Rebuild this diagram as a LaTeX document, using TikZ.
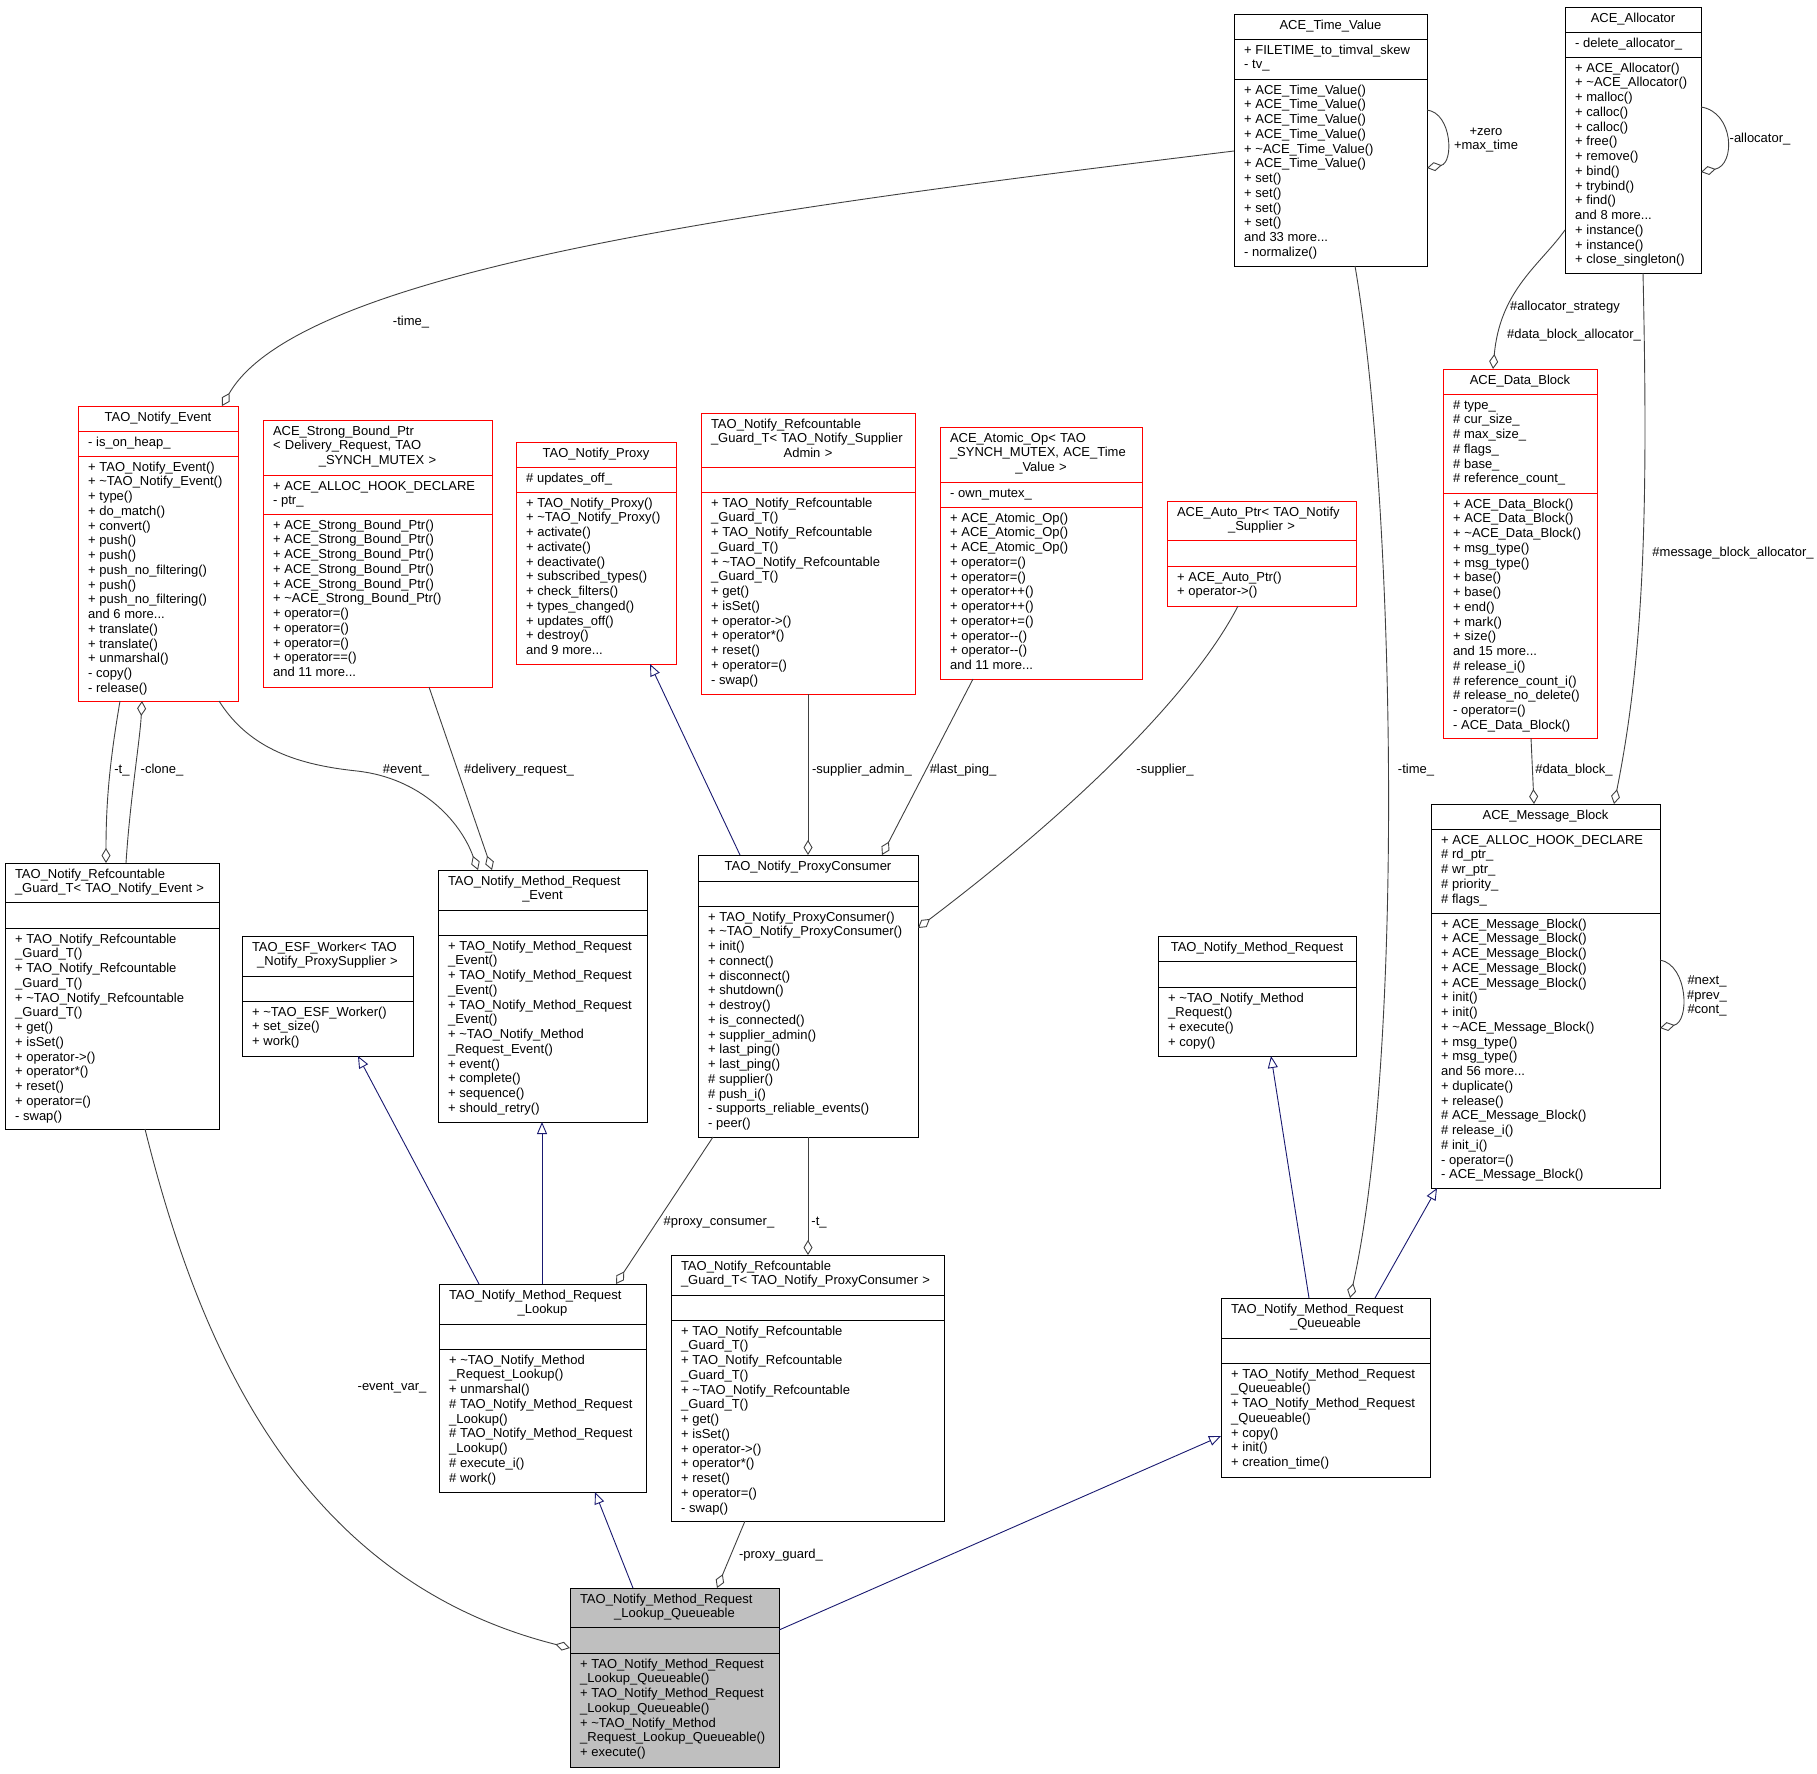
\documentclass[tikz,border=0pt]{standalone}
\usepackage{fontspec}
\setmainfont{Liberation Sans}
\usetikzlibrary{arrows.meta,calc}
\definecolor{boxred}{HTML}{FF0000}
\definecolor{edgegray}{HTML}{404040}
\definecolor{inhblue}{HTML}{191970}
\definecolor{selgray}{HTML}{BFBFBF}
\newcommand\lline[1]{\makebox[\hsize][l]{#1}}
\newcommand\tld{\textasciitilde}
\def\parsegeo#1/#2/#3/#4/#5/#6\relax{\def\gxa{#1}\def\gya{#2}\def\gxb{#3}\def\gyb{#4}\def\gsa{#5}\def\gsb{#6}}
\newcommand\umlclass[6]{%
  \parsegeo#3\relax
  \pgfmathsetmacro\gw{\gxb-\gxa}\pgfmathsetmacro\gh{\gyb-\gya}%
  \pgfmathsetmacro\gtw{\gw-20}\pgfmathsetmacro\gxc{(\gxa+\gxb)/2}%
  \pgfmathsetmacro\gxt{\gxa+10}%
  \node[classbox,#2,minimum width=\gw pt,minimum height=\gh pt,anchor=north west] (#1) at (\gxa,\gya) {};
  \draw[sepline,#2] (\gxa,\gsa) -- (\gxb,\gsa);
  \draw[sepline,#2] (\gxa,\gsb) -- (\gxb,\gsb);
  \node[txt,anchor=north,text width=\gtw pt,align=center] (#1-t) at (\gxc,\gya+3) {\rule{0pt}{12pt}#4};
  \node[txt,anchor=north west,align=left] (#1-a) at (\gxt,\gsa+3) {\rule{0pt}{12pt}#5};
  \node[txt,anchor=north west,align=left] (#1-m) at (\gxt,\gsb+3) {\rule{0pt}{12pt}#6};
}
\newcommand\refmethods{+ TAO\_Notify\_Refcountable\\\_Guard\_T()\\+ TAO\_Notify\_Refcountable\\\_Guard\_T()\\+ \tld TAO\_Notify\_Refcountable\\\_Guard\_T()\\+ get()\\+ isSet()\\+ operator->()\\+ operator*()\\+ reset()\\+ operator=()\\- swap()}
\tikzset{
  classbox/.style={inner sep=0pt,outer sep=0pt,line width=1pt},
  sepline/.style={line width=1pt},
  redbox/.style={draw=boxred},
  blackbox/.style={draw=black},
  graybox/.style={draw=black,fill=selgray},
  txt/.style={inner sep=0pt,font=\fontsize{13pt}{14.75pt}\selectfont},
  lbl/.style={inner sep=0pt,font=\fontsize{13pt}{14.75pt}\selectfont},
  agg/.style={draw=edgegray,line width=0.9pt,-{Diamond[open,length=15pt,width=9pt,line width=0.9pt]}},
  inh/.style={draw=inhblue,line width=0.9pt,-{Triangle[open,length=12pt,width=10pt,line width=0.9pt]}},
}
\begin{document}
\begin{tikzpicture}[x=1pt,y=-1pt]
\useasboundingbox (0,0) rectangle (1817,1773);

\umlclass{tv}{blackbox}{1234/14/1427/266/39/79}{ACE\_Time\_Value}{+ FILETIME\_to\_timval\_skew\\- tv\_}{+ ACE\_Time\_Value()\\+ ACE\_Time\_Value()\\+ ACE\_Time\_Value()\\+ ACE\_Time\_Value()\\+ \tld ACE\_Time\_Value()\\+ ACE\_Time\_Value()\\+ set()\\+ set()\\+ set()\\+ set()\\and 33 more...\\- normalize()}

\umlclass{al}{blackbox}{1565/7/1701/273/32/57}{ACE\_Allocator}{- delete\_allocator\_}{+ ACE\_Allocator()\\+ \tld ACE\_Allocator()\\+ malloc()\\+ calloc()\\+ calloc()\\+ free()\\+ remove()\\+ bind()\\+ trybind()\\+ find()\\and 8 more...\\+ instance()\\+ instance()\\+ close\_singleton()}

\umlclass{ev}{redbox}{78/406/238/701/431/456}{TAO\_Notify\_Event}{- is\_on\_heap\_}{+ TAO\_Notify\_Event()\\+ \tld TAO\_Notify\_Event()\\+ type()\\+ do\_match()\\+ convert()\\+ push()\\+ push()\\+ push\_no\_filtering()\\+ push()\\+ push\_no\_filtering()\\and 6 more...\\+ translate()\\+ translate()\\+ unmarshal()\\- copy()\\- release()}

\umlclass{sbp}{redbox}{263/420/492/687/475/514}{\lline{ACE\_Strong\_Bound\_Ptr}\\\lline{< Delivery\_Request, TAO}\\\_SYNCH\_MUTEX >}{+ ACE\_ALLOC\_HOOK\_DECLARE\\- ptr\_}{+ ACE\_Strong\_Bound\_Ptr()\\+ ACE\_Strong\_Bound\_Ptr()\\+ ACE\_Strong\_Bound\_Ptr()\\+ ACE\_Strong\_Bound\_Ptr()\\+ ACE\_Strong\_Bound\_Ptr()\\+ \tld ACE\_Strong\_Bound\_Ptr()\\+ operator=()\\+ operator=()\\+ operator=()\\+ operator==()\\and 11 more...}

\umlclass{px}{redbox}{516/442/676/664/467/492}{TAO\_Notify\_Proxy}{\# updates\_off\_}{+ TAO\_Notify\_Proxy()\\+ \tld TAO\_Notify\_Proxy()\\+ activate()\\+ activate()\\+ deactivate()\\+ subscribed\_types()\\+ check\_filters()\\+ types\_changed()\\+ updates\_off()\\+ destroy()\\and 9 more...}

\umlclass{rsa}{redbox}{701/413/915/694/467/492}{\lline{TAO\_Notify\_Refcountable}\\\lline{\_Guard\_T< TAO\_Notify\_Supplier}\\Admin >}{}{\refmethods}

\umlclass{ao}{redbox}{940/427/1142/679/482/507}{\lline{ACE\_Atomic\_Op< TAO}\\\lline{\_SYNCH\_MUTEX, ACE\_Time}\\\_Value >}{- own\_mutex\_}{+ ACE\_Atomic\_Op()\\+ ACE\_Atomic\_Op()\\+ ACE\_Atomic\_Op()\\+ operator=()\\+ operator=()\\+ operator++()\\+ operator++()\\+ operator+=()\\+ operator-{}-()\\+ operator-{}-()\\and 11 more...}

\umlclass{ap}{redbox}{1167/501/1356/606/540/566}{\lline{ACE\_Auto\_Ptr< TAO\_Notify}\\\_Supplier >}{}{+ ACE\_Auto\_Ptr()\\+ operator->()}

\umlclass{db}{redbox}{1443/369/1597/738/394/493}{ACE\_Data\_Block}{\# type\_\\\# cur\_size\_\\\# max\_size\_\\\# flags\_\\\# base\_\\\# reference\_count\_}{+ ACE\_Data\_Block()\\+ ACE\_Data\_Block()\\+ \tld ACE\_Data\_Block()\\+ msg\_type()\\+ msg\_type()\\+ base()\\+ base()\\+ end()\\+ mark()\\+ size()\\and 15 more...\\\# release\_i()\\\# reference\_count\_i()\\\# release\_no\_delete()\\- operator=()\\- ACE\_Data\_Block()}

\umlclass{mb}{blackbox}{1431/804/1660/1188/829/913}{ACE\_Message\_Block}{+ ACE\_ALLOC\_HOOK\_DECLARE\\\# rd\_ptr\_\\\# wr\_ptr\_\\\# priority\_\\\# flags\_}{+ ACE\_Message\_Block()\\+ ACE\_Message\_Block()\\+ ACE\_Message\_Block()\\+ ACE\_Message\_Block()\\+ ACE\_Message\_Block()\\+ init()\\+ init()\\+ \tld ACE\_Message\_Block()\\+ msg\_type()\\+ msg\_type()\\and 56 more...\\+ duplicate()\\+ release()\\\# ACE\_Message\_Block()\\\# release\_i()\\\# init\_i()\\- operator=()\\- ACE\_Message\_Block()}

\umlclass{re}{blackbox}{5/863/219/1129/902/928}{\lline{TAO\_Notify\_Refcountable}\\\lline{\_Guard\_T< TAO\_Notify\_Event >}}{}{\refmethods}

\umlclass{esf}{blackbox}{242/936/413/1056/976/1001}{\lline{TAO\_ESF\_Worker< TAO}\\\_Notify\_ProxySupplier >}{}{+ \tld TAO\_ESF\_Worker()\\+ set\_size()\\+ work()}

\umlclass{mre}{blackbox}{438/870/647/1122/910/935}{\lline{TAO\_Notify\_Method\_Request}\\\_Event}{}{+ TAO\_Notify\_Method\_Request\\\_Event()\\+ TAO\_Notify\_Method\_Request\\\_Event()\\+ TAO\_Notify\_Method\_Request\\\_Event()\\+ \tld TAO\_Notify\_Method\\\_Request\_Event()\\+ event()\\+ complete()\\+ sequence()\\+ should\_retry()}

\umlclass{pc}{blackbox}{698/855/918/1137/881/906}{TAO\_Notify\_ProxyConsumer}{}{+ TAO\_Notify\_ProxyConsumer()\\+ \tld TAO\_Notify\_ProxyConsumer()\\+ init()\\+ connect()\\+ disconnect()\\+ shutdown()\\+ destroy()\\+ is\_connected()\\+ supplier\_admin()\\+ last\_ping()\\+ last\_ping()\\\# supplier()\\\# push\_i()\\- supports\_reliable\_events()\\- peer()}

\umlclass{mr}{blackbox}{1158/936/1356/1056/961/987}{TAO\_Notify\_Method\_Request}{}{+ \tld TAO\_Notify\_Method\\\_Request()\\+ execute()\\+ copy()}

\umlclass{lk}{blackbox}{439/1284/646/1492/1324/1349}{\lline{TAO\_Notify\_Method\_Request}\\\_Lookup}{}{+ \tld TAO\_Notify\_Method\\\_Request\_Lookup()\\+ unmarshal()\\\# TAO\_Notify\_Method\_Request\\\_Lookup()\\\# TAO\_Notify\_Method\_Request\\\_Lookup()\\\# execute\_i()\\\# work()}

\umlclass{rpc}{blackbox}{671/1255/944/1521/1295/1320}{\lline{TAO\_Notify\_Refcountable}\\\lline{\_Guard\_T< TAO\_Notify\_ProxyConsumer >}}{}{\refmethods}

\umlclass{qu}{blackbox}{1221/1298/1430/1477/1338/1363}{\lline{TAO\_Notify\_Method\_Request}\\\_Queueable}{}{+ TAO\_Notify\_Method\_Request\\\_Queueable()\\+ TAO\_Notify\_Method\_Request\\\_Queueable()\\+ copy()\\+ init()\\+ creation\_time()}

\umlclass{lq}{graybox}{570/1588/779/1767/1627/1653}{\lline{TAO\_Notify\_Method\_Request}\\\_Lookup\_Queueable}{}{+ TAO\_Notify\_Method\_Request\\\_Lookup\_Queueable()\\+ TAO\_Notify\_Method\_Request\\\_Lookup\_Queueable()\\+ \tld TAO\_Notify\_Method\\\_Request\_Lookup\_Queueable()\\+ execute()}

% connectors
\draw[agg] (tv.west |- 0,151) .. controls (750,210) and (300,270) .. (222,0 |- ev.north);
\draw[agg] (tv.east |- 0,110) .. controls (1452,113) and (1454,163) .. (tv.east |- 0,168);
\draw[agg] (al.east |- 0,107) .. controls (1734,112) and (1736,165) .. (al.east |- 0,172);
\draw[agg] (al.west |- 0,230) .. controls (1540,265) and (1500,290) .. (1493,0 |- db.north);
\draw[agg] (1643,0 |- al.south) .. controls (1648,500) and (1645,650) .. (1614,0 |- mb.north);
\draw[agg] (1355,0 |- tv.south) .. controls (1395,500) and (1405,1050) .. (1350,0 |- qu.north);
\draw[agg] (120,0 |- ev.south) .. controls (110,760) and (106,800) .. (106,0 |- re.north);
\draw[agg] (126,0 |- re.north) .. controls (130,800) and (140,740) .. (142,0 |- ev.south);
\draw[agg] (219,0 |- ev.south) .. controls (250,750) and (300,765) .. (357,771) .. controls (420,778) and (460,820) .. (478,0 |- mre.north);
\draw[agg] (429,0 |- sbp.south) -- (492,0 |- mre.north);
\draw[inh] (740,0 |- pc.north) -- (650,0 |- px.south);
\draw[agg] (808,0 |- rsa.south) -- (808,0 |- pc.north);
\draw[agg] (973,0 |- ao.south) -- (882,0 |- pc.north);
\draw[agg] (1238,0 |- ap.south) .. controls (1200,680) and (1100,790) .. (pc.east |- 0,928);
\draw[inh] (479,0 |- lk.north) -- (358,0 |- esf.south);
\draw[inh] (542,0 |- lk.north) -- (542,0 |- mre.south);
\draw[agg] (713,0 |- pc.south) -- (616,0 |- lk.north);
\draw[agg] (808,0 |- pc.south) -- (808,0 |- rpc.north);
\draw[inh] (1309,0 |- qu.north) -- (1271,0 |- mr.south);
\draw[inh] (1375,0 |- qu.north) -- (1437,0 |- mb.south);
\draw[agg] (1531,0 |- db.south) -- (1534,0 |- mb.north);
\draw[agg] (mb.east |- 0,960) .. controls (1688,965) and (1690,1022) .. (mb.east |- 0,1028);
\draw[inh] (633,0 |- lq.north) -- (595,0 |- lk.south);
\draw[agg] (745,0 |- rpc.south) -- (717,0 |- lq.north);
\draw[inh] (lq.east |- 0,1630) -- (qu.west |- 0,1436);
\draw[agg] (145,0 |- re.south) .. controls (200,1350) and (300,1580) .. (lq.west |- 0,1648);

% labels
\node[lbl,anchor=base] (l-time1) at (411,325) {-time\_};
\node[lbl,align=center] (l-zero) at (1486,140) {+zero\\+max\_time};
\node[lbl,anchor=base] (l-alloc) at (1760,142) {-allocator\_};
\node[lbl,anchor=base] (l-as) at (1565,310) {\#allocator\_strategy};
\node[lbl,anchor=base] (l-dba) at (1574,338) {\#data\_block\_allocator\_};
\node[lbl,anchor=base] (l-mba) at (1733,556) {\#message\_block\_allocator\_};
\node[lbl,anchor=base] (l-time2) at (1416,773) {-time\_};
\node[lbl,anchor=base] (l-t1) at (122,773) {-t\_};
\node[lbl,anchor=base] (l-clone) at (162,773) {-clone\_};
\node[lbl,anchor=base] (l-event) at (406,773) {\#event\_};
\node[lbl,anchor=base] (l-dr) at (519,773) {\#delivery\_request\_};
\node[lbl,anchor=base] (l-sa) at (862,773) {-supplier\_admin\_};
\node[lbl,anchor=base] (l-lp) at (963,773) {\#last\_ping\_};
\node[lbl,anchor=base] (l-sup) at (1165,773) {-supplier\_};
\node[lbl,anchor=base] (l-dblk) at (1574,773) {\#data\_block\_};
\node[lbl,align=center] (l-next) at (1707,996) {\#next\_\\\#prev\_\\\#cont\_};
\node[lbl,anchor=base] (l-pcons) at (719,1225) {\#proxy\_consumer\_};
\node[lbl,anchor=base] (l-t2) at (819,1225) {-t\_};
\node[lbl,anchor=base] (l-pg) at (781,1558) {-proxy\_guard\_};
\node[lbl,anchor=base] (l-ev) at (392,1390) {-event\_var\_};
\end{tikzpicture}
\end{document}
